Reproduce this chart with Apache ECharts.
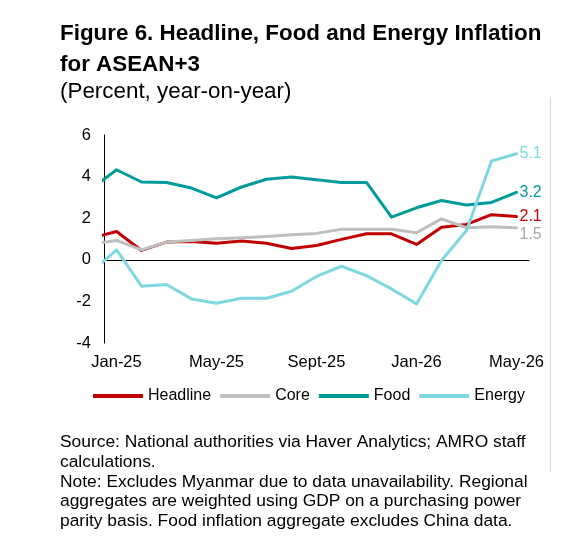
<!DOCTYPE html>
<html>
<head>
  <meta charset="UTF-8">
  <title>Figure 6</title>
  <script type="text/javascript" src="https://cdn.jsdelivr.net/npm/echarts@6/dist/echarts.min.js"></script>
  <style>
    html, body { margin: 0; padding: 0; background: #fff; }
  </style>
</head>
<body>
<div id="chart" style="width:582px; height:547px;"></div>
<script>
  // ============ data ============
  // first entry (Dec-24) only shows as the clipped stub left of Jan-25
  const months = ['Dec-24', 'Jan-25', 'Feb-25', 'Mar-25', 'Apr-25', 'May-25', 'Jun-25', 'Jul-25', 'Aug-25',
    'Sept-25', 'Oct-25', 'Nov-25', 'Dec-25', 'Jan-26', 'Feb-26', 'Mar-26', 'Apr-26', 'May-26'];
  const headline = [1.05, 1.36, 0.45, 0.85, 0.88, 0.80, 0.90, 0.80, 0.54, 0.69, 0.98, 1.25, 1.25, 0.74, 1.57, 1.70, 2.17, 2.08];
  const core     = [0.76, 0.93, 0.48, 0.85, 0.93, 1.01, 1.06, 1.12, 1.20, 1.27, 1.47, 1.47, 1.47, 1.30, 1.97, 1.54, 1.59, 1.54];
  const food     = [3.40, 4.33, 3.74, 3.72, 3.45, 2.98, 3.50, 3.87, 3.98, 3.85, 3.72, 3.72, 2.05, 2.50, 2.85, 2.63, 2.76, 3.24];
  const energy   = [-0.60, 0.48, -1.27, -1.19, -1.88, -2.09, -1.85, -1.85, -1.51, -0.80, -0.31, -0.76, -1.40, -2.12, -0.03, 1.41, 4.75, 5.10];

  const FONT = 'Liberation Sans, Arial, sans-serif';

  let chart = echarts.init(document.getElementById('chart'), null, {renderer: 'canvas'});

  // index 0 = Jan-25
  function pts(arr) {
    return arr.map((v, i) => [i - 1, v]);
  }

  function makeSeries(name, arr, color, labelColor, labelShift) {
    return {
      name: name,
      type: 'line',
      xAxisIndex: 1,
      data: pts(arr),
      symbol: 'none',
      clip: true,
      lineStyle: {color: color, width: 3, cap: 'round', join: 'round'},
      itemStyle: {color: color},
      endLabel: {
        show: true,
        distance: 3,
        offset: [0, labelShift || 0],
        fontFamily: FONT,
        fontSize: 16,
        color: labelColor || color,
        formatter: p => p.value[1].toFixed(1)
      },
      z: 3
    };
  }

  let option = {
    animation: false,
    backgroundColor: '#fff',
    textStyle: {fontFamily: FONT},
    title: [
      {
        text: 'Figure 6. Headline, Food and Energy Inflation\nfor ASEAN+3',
        left: 60, top: 19, padding: 0,
        textStyle: {fontFamily: FONT, fontSize: 22.4, fontWeight: 'bold', color: '#000', lineHeight: 30.5}
      },
      {
        text: '(Percent, year-on-year)',
        left: 60, top: 78.5, padding: 0,
        textStyle: {fontFamily: FONT, fontSize: 22.4, fontWeight: 'normal', color: '#000', lineHeight: 26}
      },
      {
        text: 'Source: National authorities via Haver Analytics; AMRO staff\ncalculations.\n' +
          'Note: Excludes Myanmar due to data unavailability. Regional\n' +
          'aggregates are weighted using GDP on a purchasing power\n' +
          'parity basis. Food inflation aggregate excludes China data.',
        left: 60, top: 432.5, padding: 0,
        textStyle: {fontFamily: FONT, fontSize: 17.4, fontWeight: 'normal', color: '#000', lineHeight: 19.75}
      }
    ],
    legend: {
      top: 388,
      left: 93,
      padding: 0,
      itemWidth: 50,
      itemHeight: 4,
      itemGap: 9,
      icon: 'rect',
      textStyle: {fontFamily: FONT, fontSize: 16, color: '#000', padding: [0, 0, 0, 0]},
      data: ['Headline', 'Core', 'Food', 'Energy']
    },
    grid: {left: 104, right: 53, top: 135, bottom: 204, containLabel: false},
    xAxis: [
      {
        // tick labels only
        type: 'category',
        data: months.slice(1),
        boundaryGap: true,
        axisLine: {show: false, onZero: false},
        axisTick: {show: false},
        axisLabel: {interval: 3, margin: 11, fontFamily: FONT, fontSize: 16.5, color: '#000'},
        splitLine: {show: false}
      },
      {
        // numeric axis the lines are drawn on, with its line at zero
        type: 'value',
        min: -0.5,
        max: months.length - 1.5,
        axisLine: {show: true, onZero: true, lineStyle: {color: '#000', width: 1}},
        axisTick: {show: false},
        axisLabel: {show: false},
        splitLine: {show: false}
      }
    ],
    yAxis: {
      type: 'value',
      min: -4,
      max: 6,
      interval: 2,
      axisLine: {show: true, onZero: false, lineStyle: {color: '#000', width: 1}},
      axisTick: {show: false},
      axisLabel: {margin: 13, fontFamily: FONT, fontSize: 16.5, color: '#000'},
      splitLine: {show: false}
    },
    graphic: [
      {
        type: 'line',
        shape: {x1: 550.5, y1: 97, x2: 550.5, y2: 472},
        style: {stroke: '#d9d9d9', lineWidth: 1}
      }
    ],
    series: [
      makeSeries('Headline', headline, '#C00000'),
      makeSeries('Core', core, '#BFBFBF', '#A6A6A6', 7),
      makeSeries('Food', food, '#009B9A'),
      makeSeries('Energy', energy, '#7FD8E1')
    ]
  };

  chart.setOption(option);
</script>
</body>
</html>
